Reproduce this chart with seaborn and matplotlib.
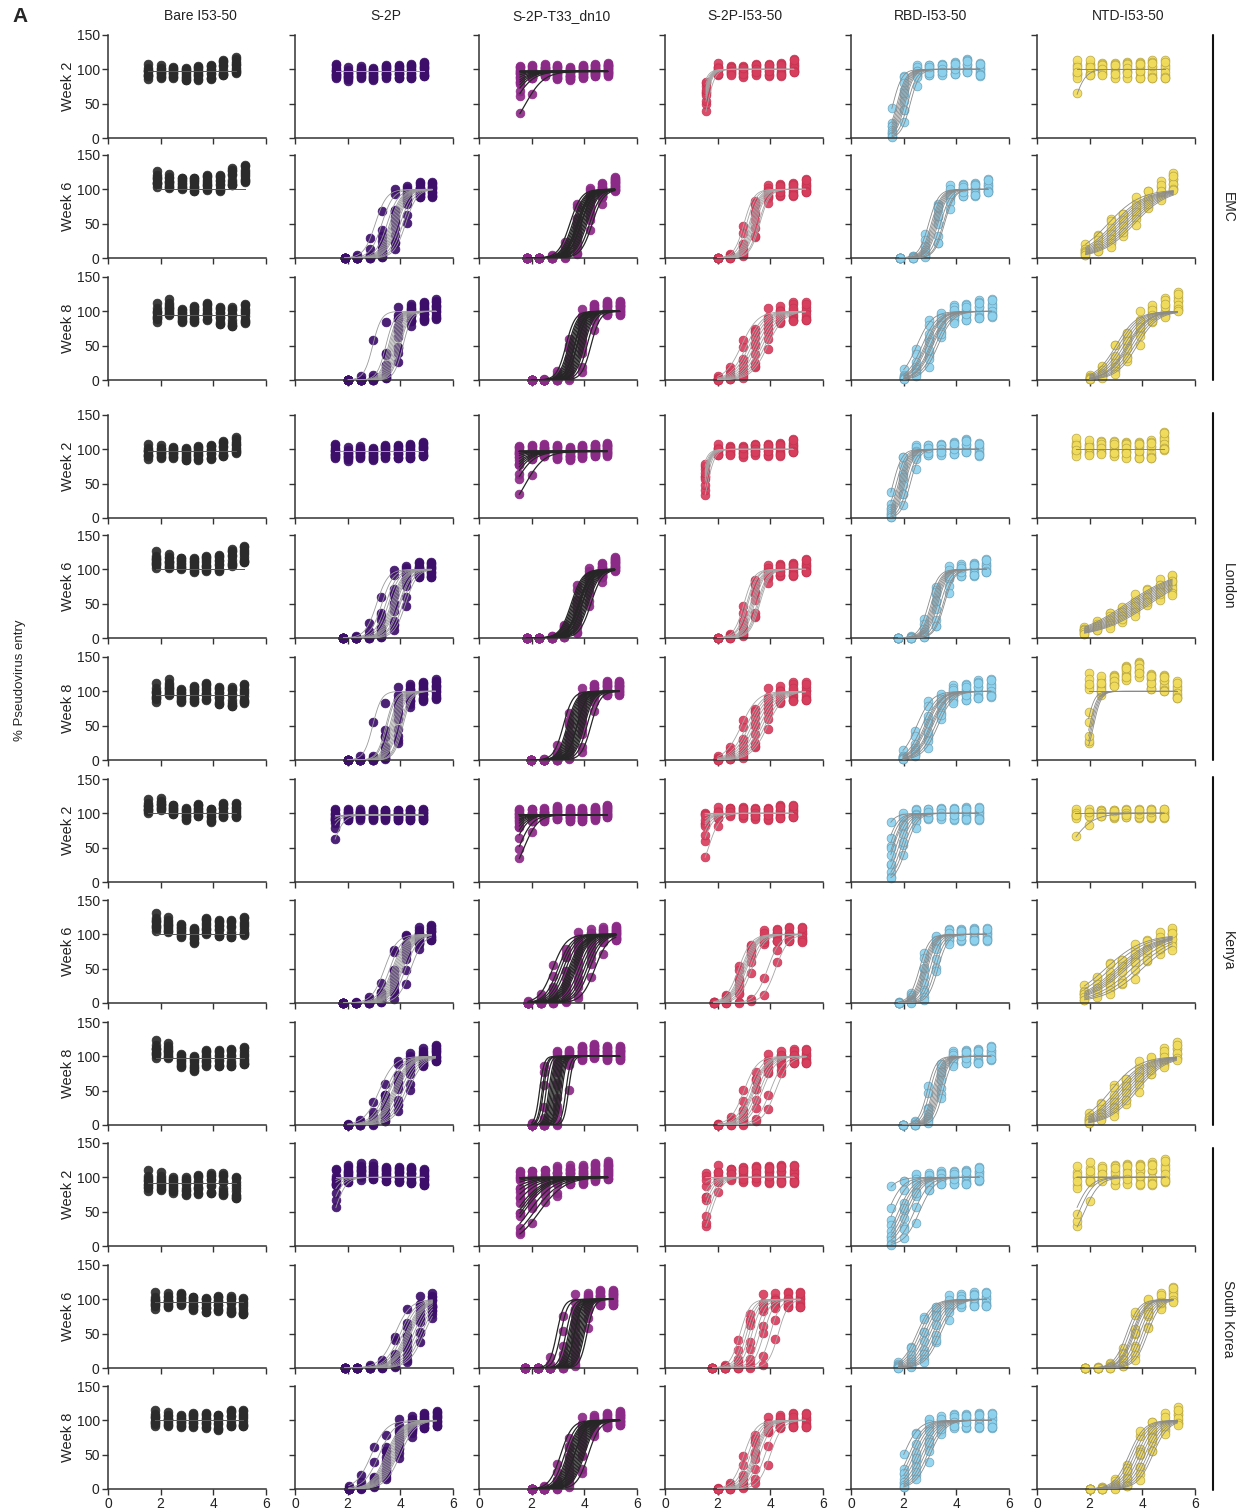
import numpy as np
import pandas as pd
import seaborn as sns
import matplotlib
matplotlib.use("Agg")
import matplotlib.pyplot as plt

sns.set_style("ticks")
plt.rcParams['font.family'] = ['Liberation Sans', 'DejaVu Sans']

antigens = ["Bare I53-50", "S-2P", "S-2P-T33_dn10", "S-2P-I53-50", "RBD-I53-50", "NTD-I53-50"]
strains = ["EMC", "London", "Kenya", "South Korea"]
weeks = ["Week 2", "Week 6", "Week 8"]

step = 0.477   # 3-fold serial dilution, log10
n_dil = 8

# rows: EMC wk2/6/8, London wk2/6/8, Kenya wk2/6/8, South Korea wk2/6/8
first_bare = [1.52, 1.85, 1.85, 1.52, 1.83, 1.83, 1.52, 1.82, 1.82, 1.52, 1.80, 1.80]
first_s2p = [1.55, 1.88, 2.02, 1.52, 1.84, 2.00, 1.52, 1.84, 2.00, 1.55, 1.88, 2.04]
first_t33 = [1.55, 1.82, 2.00, 1.53, 1.81, 1.99, 1.53, 1.86, 2.00, 1.55, 1.75, 2.00]
first_i53 = [1.55, 2.00, 2.00, 1.52, 2.00, 2.00, 1.52, 1.85, 2.02, 1.55, 1.80, 2.00]
first_rbd = [1.55, 1.86, 2.00, 1.51, 1.80, 1.97, 1.51, 1.81, 1.97, 1.52, 1.80, 2.00]
first_ntd = [1.52, 1.84, 2.00, 1.48, 1.80, 1.96, 1.48, 1.80, 1.96, 1.52, 1.83, 2.00]

# per-animal IC50 (log10 reciprocal dilution)
ic50_bare = [[-3.0] * 10 for _ in range(12)]
ic50_s2p = [
    [-2.0] * 12,
    [3.05, 3.3, 3.5, 3.6, 3.65, 3.7, 3.75, 3.8, 3.85, 3.9, 4.0, 4.1, 4.2],
    [2.95, 3.45, 3.55, 3.6, 3.65, 3.7, 3.75, 3.8, 3.85, 3.9, 3.95, 4.0, 4.1],
    [-2.0] * 12,
    [3.1, 3.3, 3.45, 3.55, 3.65, 3.7, 3.75, 3.8, 3.85, 3.95, 4.0, 4.1, 4.2],
    [2.95, 3.45, 3.5, 3.6, 3.65, 3.7, 3.75, 3.8, 3.85, 3.9, 4.0, 4.05, 4.1],
    [1.4, 1.15, 1.0, 0.8, -2, -2, -2, -2, -2, -2, -2, -2, -2],
    [3.4, 3.6, 3.7, 3.75, 3.8, 3.85, 3.9, 3.95, 4.0, 4.05, 4.1, 4.2, 4.4],
    [3.2, 3.45, 3.55, 3.6, 3.7, 3.75, 3.8, 3.85, 3.9, 4.0, 4.1, 4.2, 4.3],
    [1.5, 1.35, 1.2, 1.0, 0.8, -2, -2, -2, -2, -2, -2, -2, -2],
    [3.8, 4.0, 4.1, 4.2, 4.25, 4.3, 4.35, 4.4, 4.5, 4.6, 4.7, 4.8, 4.9],
    [2.9, 3.2, 3.45, 3.5, 3.55, 3.6, 3.65, 3.7, 3.75, 3.8, 3.85, 3.9, 4.0],
]
ic50_t33 = [
    [1.75, 1.3, 1.15, 1.05, 0.95, 0.85, 0.7, 0.5, 0.2, -1, -1, -1, -1, -1, -1, -1, -1, -1],
    [3.45, 3.55, 3.6, 3.65, 3.7, 3.72, 3.75, 3.78, 3.8, 3.85, 3.88, 3.9, 3.95, 4.0, 4.05, 4.1, 4.2, 4.3],
    [3.3, 3.4, 3.45, 3.5, 3.55, 3.6, 3.62, 3.65, 3.7, 3.72, 3.75, 3.8, 3.85, 3.9, 3.95, 4.0, 4.1, 4.25],
    [1.75, 1.35, 1.2, 1.1, 1.0, 0.9, 0.75, 0.55, 0.3, -1, -1, -1, -1, -1, -1, -1, -1, -1],
    [3.5, 3.55, 3.6, 3.65, 3.7, 3.75, 3.78, 3.8, 3.82, 3.85, 3.9, 3.92, 3.95, 4.0, 4.05, 4.1, 4.15, 4.25],
    [3.2, 3.35, 3.4, 3.45, 3.5, 3.55, 3.6, 3.65, 3.7, 3.72, 3.75, 3.8, 3.85, 3.9, 3.95, 4.0, 4.1, 4.25],
    [1.7, 1.5, 1.3, 1.2, 1.1, 1.0, 0.9, 0.8, 0.6, -1, -1, -1, -1, -1, -1, -1, -1, -1],
    [2.8, 3.0, 3.1, 3.2, 3.3, 3.4, 3.45, 3.5, 3.55, 3.6, 3.65, 3.7, 3.8, 3.9, 4.0, 4.1, 4.2, 4.4],
    [2.3, 2.4, 2.45, 2.55, 2.65, 2.7, 2.75, 2.8, 2.85, 2.9, 2.95, 3.0, 3.0, 3.05, 3.1, 3.15, 3.3, 3.4],
    [2.3, 2.1, 1.9, 1.7, 1.6, 1.5, 1.4, 1.2, 1.0, 0.8, 0.6, 0.3, 0.0, -0.5, -1, -1, -1, -1],
    [2.95, 3.1, 3.3, 3.4, 3.45, 3.5, 3.55, 3.6, 3.62, 3.65, 3.7, 3.75, 3.8, 3.85, 3.9, 3.95, 4.0, 4.1],
    [3.1, 3.25, 3.35, 3.4, 3.45, 3.5, 3.55, 3.6, 3.62, 3.65, 3.7, 3.75, 3.8, 3.85, 3.9, 3.95, 4.0, 4.15],
]
ic50_i53 = [
    [1.62, 1.53, 1.5, 1.48, 1.46, 1.44, 1.42, 1.4, 1.36, 1.3],
    [3.0, 3.1, 3.2, 3.25, 3.3, 3.35, 3.4, 3.45, 3.55, 3.6],
    [2.9, 3.1, 3.2, 3.3, 3.4, 3.5, 3.6, 3.7, 3.8, 3.9],
    [1.62, 1.55, 1.5, 1.48, 1.46, 1.44, 1.42, 1.4, 1.36, 1.3],
    [3.0, 3.1, 3.15, 3.25, 3.3, 3.35, 3.4, 3.5, 3.55, 3.6],
    [2.9, 3.1, 3.2, 3.3, 3.4, 3.5, 3.6, 3.7, 3.8, 3.9],
    [1.65, 1.4, 1.3, 1.2, 1.15, 1.1, 1.0, 0.8, 0.5, 0.0],
    [2.8, 2.9, 2.95, 3.0, 3.05, 3.1, 3.2, 3.3, 3.9, 4.2],
    [3.0, 3.2, 3.3, 3.35, 3.4, 3.5, 3.6, 3.7, 4.0, 4.2],
    [1.75, 1.65, 1.55, 1.45, 1.35, 1.25, 1.0, 0.5, 0.0, -1.0],
    [2.85, 3.0, 3.1, 3.2, 3.3, 3.45, 3.6, 3.75, 4.0, 4.3],
    [3.0, 3.15, 3.25, 3.35, 3.4, 3.45, 3.5, 3.6, 3.8, 4.0],
]
ic50_rbd = [
    [1.6, 1.75, 1.8, 1.85, 1.9, 1.95, 2.0, 2.05, 2.15, 2.25],
    [2.95, 3.05, 3.1, 3.15, 3.2, 3.25, 3.3, 3.4, 3.5, 3.55],
    [2.5, 2.7, 2.8, 2.85, 2.9, 3.0, 3.05, 3.1, 3.2, 3.3],
    [1.6, 1.72, 1.8, 1.85, 1.9, 1.95, 2.0, 2.05, 2.15, 2.25],
    [2.95, 3.05, 3.1, 3.15, 3.2, 3.25, 3.3, 3.4, 3.5, 3.55],
    [2.5, 2.7, 2.8, 2.85, 2.9, 3.0, 3.05, 3.1, 3.2, 3.3],
    [1.1, 1.35, 1.45, 1.55, 1.6, 1.7, 1.8, 1.9, 2.0, 2.1],
    [2.6, 2.7, 2.75, 2.8, 2.85, 2.9, 3.0, 3.1, 3.2, 3.3],
    [2.9, 3.0, 3.1, 3.15, 3.2, 3.25, 3.3, 3.35, 3.4, 3.5],
    [1.0, 1.4, 1.6, 1.8, 1.9, 2.0, 2.1, 2.2, 2.4, 2.6],
    [2.5, 2.6, 2.7, 2.8, 2.9, 3.0, 3.1, 3.2, 3.3, 3.4],
    [2.0, 2.2, 2.3, 2.4, 2.5, 2.6, 2.7, 2.8, 2.9, 3.0],
]
ic50_ntd = [
    [1.4, -1, -1, -1, -1, -1, -1, -1, -1, -1],
    [2.7, 2.9, 3.0, 3.1, 3.2, 3.3, 3.4, 3.5, 3.6, 3.7],
    [3.0, 3.1, 3.2, 3.3, 3.4, 3.45, 3.5, 3.6, 3.7, 3.8],
    [-1, -1, -1, -1, -1, -1, -1, -1, -1, -1],
    [3.4, 3.5, 3.6, 3.7, 3.8, 3.9, 4.0, 4.1, 4.2, 4.3],
    [2.15, 2.1, 2.05, 2.0, 1.9, -1, -1, -1, -1, -1],
    [1.2, -1, -1, -1, -1, -1, -1, -1, -1, -1],
    [2.6, 2.8, 3.0, 3.1, 3.2, 3.3, 3.4, 3.6, 3.8, 4.0],
    [2.8, 3.0, 3.1, 3.2, 3.3, 3.4, 3.5, 3.6, 3.7, 3.8],
    [1.8, 1.6, 1.45, -1, -1, -1, -1, -1, -1, -1],
    [3.4, 3.5, 3.6, 3.65, 3.7, 3.8, 3.9, 4.0, 4.1, 4.2],
    [3.5, 3.6, 3.7, 3.8, 3.9, 4.0, 4.1, 4.2, 4.3, 4.4],
]

hill_bare = [2] * 12
hill_s2p = [2, 2.0, 2.6, 2, 2.0, 2.6, 2, 1.8, 1.5, 2, 1.5, 1.5]
hill_t33 = [1.2, 2.0, 2.5, 1.2, 2.0, 2.4, 1.6, 1.7, 5, 0.9, 3.2, 2.0]
hill_i53 = [3, 2.3, 1.4, 3, 2.3, 1.4, 2, 1.8, 1.7, 2, 2.3, 1.9]
hill_rbd = [2.5, 2.3, 1.5, 2.5, 2.3, 1.5, 2, 2.3, 2.6, 1.5, 1.5, 1.5]
hill_ntd = [2, 0.7, 1.1, 2, 0.45, 3, 1, 0.6, 0.8, 1.5, 1.8, 1.5]

top_bare = [98, 100, 95, 98, 100, 95, 100, 100, 98, 92, 96, 100]
top_s2p = [97, 100, 100, 97, 100, 100, 98, 100, 100, 100, 100, 100]
top_t33 = [97, 100, 100, 97, 100, 100, 98, 100, 100, 100, 100, 100]
top_i53 = [100] * 12
top_rbd = [100] * 12
top_ntd = [100] * 12

# mean offset of the points above/below the fitted plateau at each dilution
lift_bare = [
    [-1, -3, -3, -4, -3, -1, 4, 8],
    [15, 10, 8, 8, 10, 10, 18, 23],
    [3, 8, -2, 2, 5, 0, -3, 2],
    [-1, -3, -3, -4, -3, -1, 3, 8],
    [14, 10, 8, 7, 9, 10, 17, 22],
    [3, 8, -2, 2, 5, 0, -3, 2],
    [10, 12, 5, 0, 5, -2, 5, 5],
    [18, 12, 5, 0, 12, 10, 8, 12],
    [12, 8, -5, -8, 0, 0, 0, 3],
    [3, 0, -4, -4, -2, 0, -2, -7],
    [2, 1, 4, -1, -4, -1, -4, -6],
    [3, 0, -2, 2, 0, -2, 3, 3],
]
lift_s2p = [
    [0, -4, -3, -3, 0, 0, 0, 3], [0] * 8, [0, 0, 0, 0, 0, 0, 0, 3],
    [0, -4, -3, -3, 0, 0, 0, 3], [0] * 8, [0, 0, 0, 0, 0, 0, 0, 3],
    [0] * 8, [0, 0, 0, 0, 0, 0, 0, 3], [0, 0, 0, 0, 0, 0, 0, 5],
    [0, 5, 8, 8, 5, 5, 3, 0], [0] * 8, [0, 0, 0, 0, 0, 0, 0, 3],
]
lift_t33 = [
    [0, 0, 2, 0, -3, 0, 2, 3], [0, 0, 0, 0, 0, 0, 0, 8], [0, 0, 0, 0, 0, 3, 5, 5],
    [0, 0, 2, 0, -3, 0, 2, 3], [0, 0, 0, 0, 0, 0, 0, 8], [0, 0, 0, 0, 0, 3, 5, 5],
    [0, 0, 0, 3, 0, 0, 2, 5], [0, 0, 0, 0, 0, 0, 0, 2], [0, 0, 0, 0, 5, 8, 5, 5],
    [0, 0, 0, 3, 5, 5, 8, 10], [0, 0, 0, 0, 0, 0, 2, 2], [0, 0, 0, 0, 0, 0, 0, 3],
]
lift_i53 = [
    [0, 0, -2, -2, 0, 0, 0, 5], [0, 0, 0, 0, 0, 0, 0, 5], [0] * 8,
    [0, 0, -2, -2, 0, 0, 0, 5], [0, 0, 0, 0, 0, 0, 0, 5], [0] * 8,
    [0, 0, 2, 2, 0, 0, 2, 3], [0] * 8, [0] * 8,
    [0, 5, 5, 5, 5, 5, 5, 5], [0] * 8, [0] * 8,
]
lift_rbd = [
    [0, 0, 0, 0, 0, 2, 5, 0], [0, 0, 0, 0, 0, 0, 0, 5], [0, 0, 0, 0, 0, 0, 3, 5],
    [0, 0, 0, 0, 0, 2, 5, 0], [0, 0, 0, 0, 0, 0, 0, 5], [0, 0, 0, 0, 0, 0, 3, 5],
    [0] * 8, [0] * 8, [0, 0, 0, 0, 0, 0, 0, 5],
    [0, 0, 0, 0, 0, 0, 0, 5], [0] * 8, [0] * 8,
]
lift_ntd = [
    [0] * 8, [0, 0, 0, 0, 0, 3, 8, 18], [0, 0, 0, 0, 0, 5, 8, 15],
    [3, 0, 2, 2, 0, 0, 0, 12], [0] * 8, [15, 10, 15, 28, 32, 15, 12, 2],
    [0] * 8, [0, 0, 0, 0, 0, 0, 0, 5], [0, 0, 0, 0, 0, 0, 5, 12],
    [0, 5, 5, 5, 5, 5, 5, 10], [0, 0, 0, 0, 0, 0, 0, 8], [0, 0, 0, 0, 0, 0, 0, 8],
]

spread_bare = [12, 13, 15, 12, 13, 15, 11, 14, 14, 17, 13, 13]
spread_s2p = [11, 12, 15, 11, 12, 15, 9, 12, 13, 13, 12, 12]
spread_t33 = [10, 11, 11, 10, 11, 11, 10, 11, 11, 14, 12, 11]
spread_i53 = [10, 10, 14, 10, 10, 14, 10, 11, 11, 14, 12, 11]
spread_rbd = [10, 10, 14, 10, 10, 14, 10, 10, 11, 11, 11, 12]
spread_ntd = [14, 11, 14, 14, 10, 13, 7, 11, 12, 18, 11, 12]

# fixed residual pattern (relative units), read as typical scatter around the fit
resid = [0.1, -0.6, 0.8, -0.2, 0.45, -0.9, 0.3, -0.4, 0.95, -0.75, 0.6, 0.0, -0.3, 0.7, -0.5, 0.2, -0.85]

point_colors = ["#2b2b2b", "#3d0f6b", "#8c2a87", "#d83e5e", "#8dd3ef", "#f1dc5c"]
edge_colors = ["#2b2b2b", "#3d0f6b", "#8c2a87", "#c23350", "#6d9fb6", "#b3a244"]
line_colors = ["#5a5a5a", "#9a9a9a", "#262626", "#a5a5a5", "#8a8a8a", "#8a8a8a"]
line_widths = [0.7, 0.6, 0.9, 0.6, 0.6, 0.6]

firsts = [first_bare, first_s2p, first_t33, first_i53, first_rbd, first_ntd]
ic50s = [ic50_bare, ic50_s2p, ic50_t33, ic50_i53, ic50_rbd, ic50_ntd]
hills = [hill_bare, hill_s2p, hill_t33, hill_i53, hill_rbd, hill_ntd]
tops = [top_bare, top_s2p, top_t33, top_i53, top_rbd, top_ntd]
lifts = [lift_bare, lift_s2p, lift_t33, lift_i53, lift_rbd, lift_ntd]
spreads = [spread_bare, spread_s2p, spread_t33, spread_i53, spread_rbd, spread_ntd]


def fit_curve(x, ic50, hill, top):
    return top / (1 + 10 ** (hill * (ic50 - x)))


W, H = 1242, 1509
fig = plt.figure(figsize=(W / 100, H / 100), dpi=100)

col_left = [108, 295, 479, 665, 851, 1037]
row_top = [35, 155, 277, 415, 535, 657, 779, 900, 1022, 1143, 1265, 1386]
ax_w, ax_h = 158, 103

for c in range(6):
    for r in range(12):
        ax = fig.add_axes([col_left[c] / W, 1 - (row_top[r] + ax_h) / H, ax_w / W, ax_h / H])
        x_dil = firsts[c][r] + step * np.arange(n_dil)
        xs = np.linspace(x_dil[0], x_dil[-1], 120)
        pts, curves = [], []
        for i, ic in enumerate(ic50s[c][r]):
            yfit = fit_curve(x_dil, ic, hills[c][r], tops[c][r])
            for k in range(n_dil):
                w = min(1.0, yfit[k] / 40)
                y = yfit[k] + lifts[c][r][k] * yfit[k] / tops[c][r] \
                    + spreads[c][r] * resid[(i * 7 + k * 3) % len(resid)] * w
                pts.append((x_dil[k], max(y, 0.0), i))
            for xv, yv in zip(xs, fit_curve(xs, ic, hills[c][r], tops[c][r])):
                curves.append((xv, yv, i))
        pdf = pd.DataFrame(pts, columns=["x", "y", "animal"])
        cdf = pd.DataFrame(curves, columns=["x", "y", "animal"])
        sns.scatterplot(data=pdf, x="x", y="y", ax=ax, color=point_colors[c],
                        edgecolor=edge_colors[c], linewidth=0.5, s=40, alpha=0.92,
                        legend=False, clip_on=False, zorder=2)
        sns.lineplot(data=cdf, x="x", y="y", units="animal", estimator=None, ax=ax,
                     color=line_colors[c], lw=line_widths[c], legend=False, zorder=3)
        ax.set_xlim(0, 6)
        ax.set_ylim(0, 150)
        ax.set_xticks([0, 2, 4, 6])
        ax.set_yticks([0, 50, 100, 150])
        ax.set_xlabel("")
        ax.set_ylabel("")
        sns.despine(ax=ax)
        for sp in ["left", "bottom"]:
            ax.spines[sp].set_color("#333333")
            ax.spines[sp].set_linewidth(1.1)
        ax.tick_params(direction="out", length=4, width=1, colors="#333333",
                       labelsize=10, labelcolor="#222222", pad=2)
        if r != 11:
            ax.set_xticklabels([])
        if c != 0:
            ax.set_yticklabels([])
        else:
            fig.text(68 / W, 1 - (row_top[r] + ax_h / 2) / H, weeks[r % 3], rotation=90,
                     ha="center", va="center", fontsize=10.5, color="#222222")

title_x = [200, 386, 561, 745, 931, 1128]
for c in range(6):
    fig.text(title_x[c] / W, 1 - 16 / H, antigens[c], ha="center", va="center",
             fontsize=10, color="#222222")

strain_span = [(35, 380), (413, 760), (777, 1125), (1148, 1490)]
for s, (y0, y1) in zip(strains, strain_span):
    fig.add_artist(plt.Line2D([1213 / W, 1213 / W], [1 - y0 / H, 1 - y1 / H],
                              color="#111111", lw=1.5))
    fig.text(1228 / W, 1 - (y0 + y1) / 2 / H, s, rotation=-90, ha="center",
             va="center", fontsize=10, color="#222222")

fig.text(20 / W, 1 - 680 / H, "% Pseudovirus entry", rotation=90, ha="center",
         va="center", fontsize=9.5, color="#222222")
fig.text(20 / W, 1 - 17 / H, "A", ha="center", va="center", fontsize=15,
         fontweight="bold")

fig.savefig("out.png", dpi=100)
